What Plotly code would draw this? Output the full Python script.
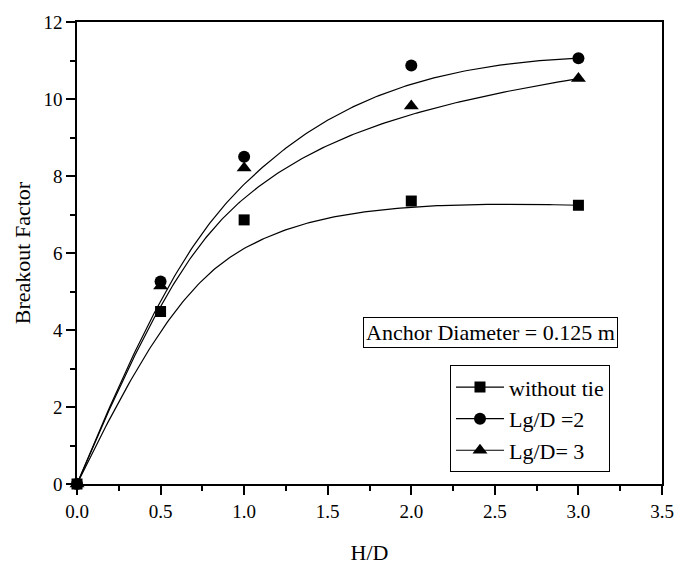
import numpy as np
import plotly.graph_objects as go

# ---- data ----
hd = [0.0, 0.5, 1.0, 2.0, 3.0]
without_tie = [0.0, 4.48, 6.86, 7.35, 7.24]
lg_d_2 = [0.0, 5.26, 8.5, 10.87, 11.06]
lg_d_3 = [0.0, 5.14, 8.21, 9.82, 10.53]

series_names = ["without tie", "Lg/D =2", "Lg/D= 3"]
x_tick_labels = ["0.0", "0.5", "1.0", "1.5", "2.0", "2.5", "3.0", "3.5"]
y_tick_labels = ["0", "2", "4", "6", "8", "10", "12"]


def bspline(xs, ys, n=200, k=3):
    """Clamped uniform B-spline using data points as control points (Origin 'B-Spline' connect)."""
    P = np.column_stack([xs, ys]).astype(float)
    m = len(P)
    inner = np.linspace(0, 1, m - k + 1)[1:-1]
    knots = np.concatenate([np.zeros(k + 1), inner, np.ones(k + 1)])
    ts = np.linspace(0, 1, n)
    out = []
    for t in ts:
        if t >= 1.0:
            out.append(P[-1])
            continue
        j = np.searchsorted(knots, t, side="right") - 1
        d = [P[j - k + i].copy() for i in range(k + 1)]
        for r in range(1, k + 1):
            for i in range(k, r - 1, -1):
                idx = j - k + i
                denom = knots[idx + k - r + 1] - knots[idx]
                a = 0.0 if denom == 0 else (t - knots[idx]) / denom
                d[i] = (1 - a) * d[i - 1] + a * d[i]
        out.append(d[k])
    out = np.array(out)
    return out[:, 0], out[:, 1]


font_family = "Liberation Serif, Times New Roman, serif"
symbols = ["square", "circle", "triangle-up"]
sizes = [11, 12, 13]
all_series = [without_tie, lg_d_2, lg_d_3]

fig = go.Figure()
for name, ys, sym, sz in zip(series_names, all_series, symbols, sizes):
    sx, sy = bspline(hd, ys)
    fig.add_trace(go.Scatter(x=sx, y=sy, mode="lines", line=dict(color="black", width=1.2),
                             showlegend=False, hoverinfo="skip", cliponaxis=False))
    fig.add_trace(go.Scatter(x=hd, y=ys, mode="markers",
                             marker=dict(symbol=sym, size=sz, color="black"),
                             showlegend=False, cliponaxis=False))
    fig.add_trace(go.Scatter(x=[None], y=[None], mode="lines+markers", name=name,
                             line=dict(color="black", width=1.2),
                             marker=dict(symbol=sym, size=sz, color="black")))

axis_common = dict(
    showline=True, linecolor="black", linewidth=1.5, mirror=True,
    ticks="outside", ticklen=9, tickwidth=1.5, tickcolor="black",
    showgrid=False, zeroline=False,
    tickfont=dict(family=font_family, size=19, color="black"),
)

fig.update_xaxes(
    range=[0, 3.5], tickvals=[float(v) for v in x_tick_labels], ticktext=x_tick_labels,
    title=dict(text="H/D", font=dict(family=font_family, size=22, color="black"), standoff=24),
    minor=dict(ticks="outside", ticklen=5, tickwidth=1.5, tickcolor="black", dtick=0.25),
    **axis_common,
)
fig.update_yaxes(
    range=[0, 12], tickvals=[float(v) for v in y_tick_labels], ticktext=y_tick_labels,
    title=dict(text="Breakout Factor", font=dict(family=font_family, size=22, color="black"), standoff=7),
    minor=dict(ticks="outside", ticklen=5, tickwidth=1.5, tickcolor="black", dtick=1),
    **axis_common,
)

fig.add_annotation(
    text="Anchor Diameter = 0.125 m", xref="paper", yref="paper",
    x=0.706, y=0.329, xanchor="center", yanchor="middle", showarrow=False,
    font=dict(family=font_family, size=22, color="black"),
    bordercolor="black", borderwidth=1, borderpad=2, bgcolor="white",
)

fig.update_layout(
    width=686, height=573,
    margin=dict(l=77, r=13, t=15, b=76),
    plot_bgcolor="white", paper_bgcolor="white",
    legend=dict(x=0.6376, y=0.257, xanchor="left", yanchor="top",
                bordercolor="black", borderwidth=1, bgcolor="white",
                font=dict(family=font_family, size=22, color="black"),
                tracegroupgap=0, itemwidth=48),
)

fig.write_html("out.html")
